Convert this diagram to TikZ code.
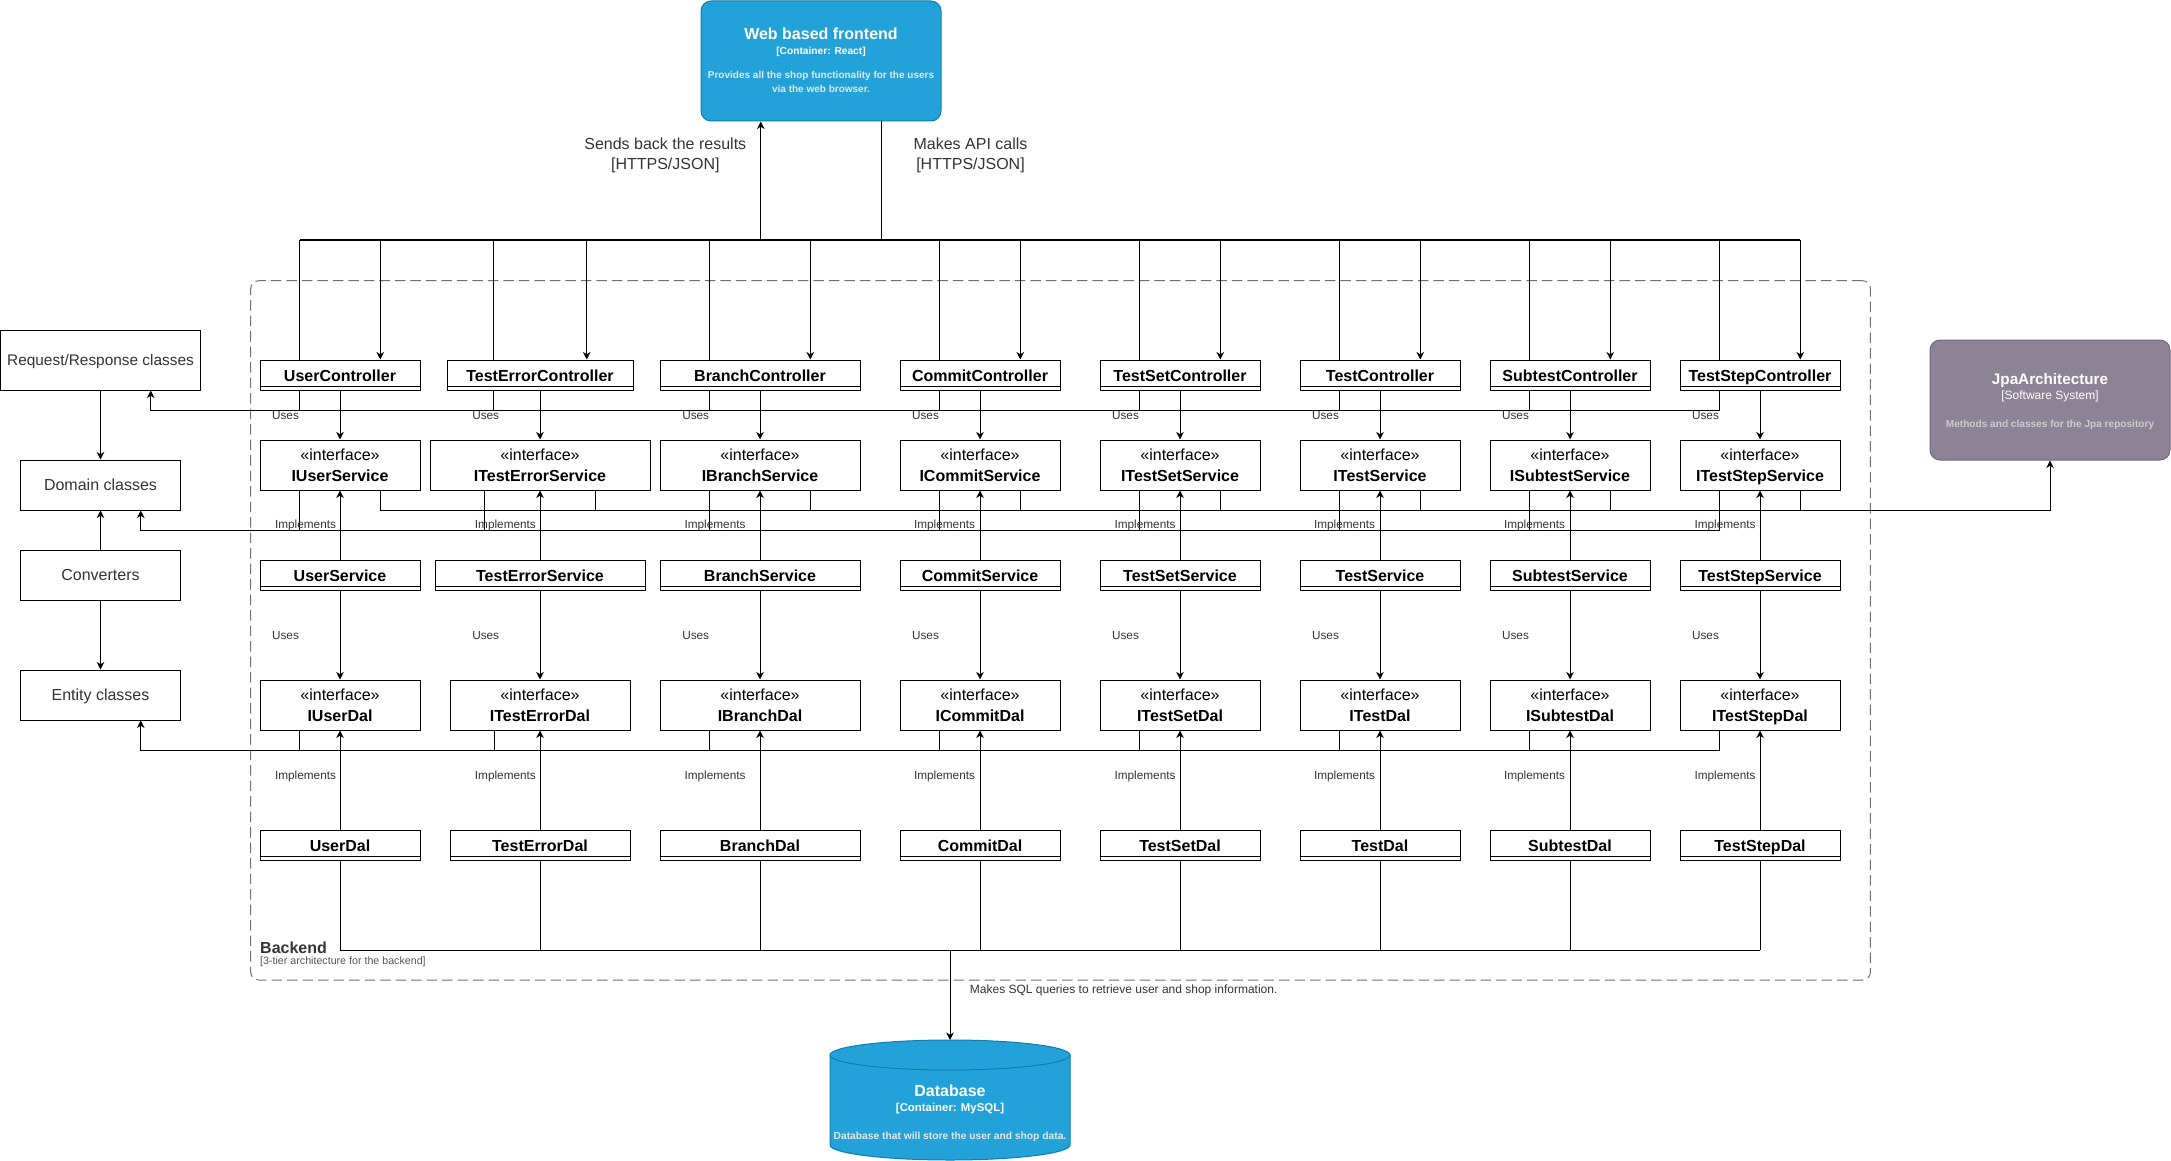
\documentclass[tikz,border=0pt]{standalone}
\usepackage{fontspec}
\setmainfont{Liberation Sans}
\usetikzlibrary{arrows.meta,calc}
\definecolor{c4blue}{HTML}{23A2D9}
\definecolor{c4bluedk}{HTML}{0E7DAD}
\definecolor{c4ext}{HTML}{8C8496}
\definecolor{c4extdk}{HTML}{736782}
\definecolor{txtgrey}{HTML}{333333}
\definecolor{subgrey}{HTML}{555555}
\definecolor{descblue}{HTML}{E6E6E6}
\definecolor{descext}{HTML}{CCCCCC}
\definecolor{framegrey}{HTML}{707070}
\newcommand{\pxfont}[1]{\fontsize{#1pt}{#1pt}\selectfont}

\tikzset{
  conn/.style={draw=black, line width=1pt},
  arr/.style={conn, -{Stealth[length=7.5pt,width=7.5pt,inset=2.3pt]}},
  lbox/.style={draw=black, line width=1pt, fill=white, inner sep=0pt,
    text height=11.5pt, text depth=0pt, text=txtgrey, font=\pxfont{16}},
  ctrlbox/.style={draw=black, line width=1pt, fill=white, inner sep=0pt,
    minimum height=30pt, text height=13pt, text depth=0pt,
    font=\bfseries\pxfont{16},
    path picture={\draw[line width=1pt]
      ([yshift=3.3pt]path picture bounding box.south west) --
      ([yshift=3.3pt]path picture bounding box.south east);}},
  ifbox/.style={draw=black, line width=1pt, fill=white, inner sep=0pt,
    minimum height=50pt},
  stereo/.style={inner sep=0pt, anchor=base, font=\pxfont{16}},
  ifname/.style={inner sep=0pt, anchor=base, font=\bfseries\pxfont{16}},
  elabel/.style={inner sep=0pt, anchor=base, text=txtgrey, font=\pxfont{11.8}},
  flow/.style={inner sep=0pt, anchor=base, text=txtgrey, font=\pxfont{16}},
  c4cont/.style={draw=c4bluedk, fill=c4blue, line width=1pt,
    rounded corners=10pt, inner sep=0pt, minimum width=240pt, minimum height=120pt},
  extsys/.style={draw=c4extdk, fill=c4ext, line width=1pt,
    rounded corners=10pt, inner sep=0pt, minimum width=240pt, minimum height=120pt},
  c4text/.style={inner sep=0pt, anchor=base, text=white},
}

\begin{document}
\begin{tikzpicture}[x=1pt,y=-1pt]
\useasboundingbox (0,0) rectangle (2171,1161);

% backend boundary
\node[draw=framegrey, line width=1pt, dash pattern=on 10.5pt off 5pt,
  rounded corners=8pt, inner sep=0pt, minimum width=1619.7pt,
  minimum height=699.3pt] (backend) at (1060.55,630.35) {};
\node[inner sep=0pt, anchor=base west, text=txtgrey, font=\bfseries\pxfont{16}]
  (backend-t) at (260,953.2) {Backend};
\node[inner sep=0pt, anchor=base west, text=subgrey, font=\pxfont{10.67}]
  (backend-s) at (260,964.5) {[3-tier architecture for the backend]};

% web frontend
\node[c4cont] (fe) at (821,61) {};
\node[c4text, font=\bfseries\pxfont{16}] (fe-t) at (821,40) {Web based frontend};
\node[c4text, font=\bfseries\pxfont{10.2}] (fe-s) at (821,54.3) {[Container: React]};
\node[c4text, text=descblue, font=\bfseries\pxfont{10}] (fe-d1) at (821,79) {Provides all the shop functionality for the users};
\node[c4text, text=descblue, font=\bfseries\pxfont{10}] (fe-d2) at (821,92.4) {via the web browser.};

% external Jpa system
\node[extsys] (jpa) at (2050,400) {};
\node[c4text, font=\bfseries\pxfont{15.25}] (jpa-t) at (2050,384) {JpaArchitecture};
\node[c4text, font=\pxfont{12}] (jpa-s) at (2050,399.3) {[Software System]};
\node[c4text, text=descext, font=\bfseries\pxfont{10.1}] (jpa-d) at (2050,427.3) {Methods and classes for the Jpa repository};

% database cylinder
\node[inner sep=0pt, outer sep=0pt, minimum width=240pt, minimum height=120pt] (db) at (950,1100) {};
\path[fill=c4blue, draw=c4bluedk, line width=1pt]
  ($(db.north west)+(0,15)$) -- ++(0,90)
  arc[start angle=180, end angle=360, x radius=120pt, y radius=15pt]
  -- ++(0,-90)
  arc[start angle=0, end angle=180, x radius=120pt, y radius=15pt] -- cycle;
\draw[c4bluedk, line width=1pt] ($(db.north west)+(0,15)$)
  arc[start angle=180, end angle=360, x radius=120pt, y radius=15pt];
\node[c4text, font=\bfseries\pxfont{16}] (db-t) at (950,1096.5) {Database};
\node[c4text, font=\bfseries\pxfont{11.4}] (db-s) at (950,1111.5) {[Container: MySQL]};
\node[c4text, text=descblue, font=\bfseries\pxfont{10.26}] (db-d) at (950,1139.7) {Database that will store the user and shop data.};

% shared class groups on the left
\node[lbox, font=\pxfont{15.4}, minimum width=200pt, minimum height=60pt] (rr) at (100.5,360) {Request/Response classes};
\node[lbox, minimum width=160pt, minimum height=50pt] (dom) at (100.5,485) {Domain classes};
\node[lbox, minimum width=160pt, minimum height=50pt] (conv) at (100.5,575) {Converters};
\node[lbox, minimum width=160pt, minimum height=50pt] (ent) at (100.5,695) {Entity classes};

% connector rails
\coordinate (busY) at (0,240);
\coordinate (usesY) at (0,410);
\coordinate (jpaY) at (0,510);
\coordinate (domY) at (0,530);
\coordinate (entY) at (0,750);
\coordinate (dbY) at (0,950);

% one column per entity: controller, service, data access
\foreach \i/\nm/\cx/\wA/\wB/\wC/\wD/\wE/\ux/\ix in {
  1/User/340/160/160/160/160/160/285.5/305.5,
  2/TestError/540/186/220/210/180/180/485.7/505.4,
  3/Branch/760/200/200/200/200/200/695.7/715,
  4/Commit/980/160/160/160/160/160/925.5/944.5,
  5/TestSet/1180/160/160/160/160/160/1125.5/1145,
  6/Test/1380/160/160/160/160/160/1325.5/1344.5,
  7/Subtest/1570/160/160/160/160/160/1515.5/1534.5,
  8/TestStep/1760/160/160/160/160/160/1705.5/1725}
{
  \node[ctrlbox, minimum width=\wA] (c\i) at (\cx,375) {\nm Controller};
  \node[ifbox, minimum width=\wB] (is\i) at (\cx,465) {};
  \node[stereo] (is\i-st) at (\cx,460.5) {«interface»};
  \node[ifname] (is\i-nm) at (\cx,481.2) {I\nm Service};
  \node[ctrlbox, minimum width=\wC] (sv\i) at (\cx,575) {\nm Service};
  \node[ifbox, minimum width=\wD] (id\i) at (\cx,705) {};
  \node[stereo] (id\i-st) at (\cx,700.5) {«interface»};
  \node[ifname] (id\i-nm) at (\cx,721.2) {I\nm Dal};
  \node[ctrlbox, minimum width=\wE] (dl\i) at (\cx,845) {\nm Dal};

  \coordinate (c\i-t1) at ($(c\i.north west)!.25!(c\i.north east)$);
  \coordinate (c\i-t3) at ($(c\i.north west)!.75!(c\i.north east)$);
  \coordinate (c\i-b1) at ($(c\i.south west)!.25!(c\i.south east)$);
  \coordinate (is\i-b1) at ($(is\i.south west)!.25!(is\i.south east)$);
  \coordinate (is\i-b3) at ($(is\i.south west)!.75!(is\i.south east)$);
  \coordinate (id\i-b1) at ($(id\i.south west)!.25!(id\i.south east)$);

  \draw[conn] (c\i-t1) -- (c\i-t1 |- busY);
  \draw[arr] (c\i-t3 |- busY) -- (c\i-t3);
  \draw[arr] (c\i) -- (is\i);
  \draw[conn] (c\i-b1) -- (c\i-b1 |- usesY);
  \draw[arr] (sv\i) -- (is\i);
  \draw[conn] (is\i-b1) -- (is\i-b1 |- domY);
  \draw[conn] (is\i-b3) -- (is\i-b3 |- jpaY);
  \draw[arr] (sv\i) -- (id\i);
  \draw[arr] (dl\i) -- (id\i);
  \draw[conn] (id\i-b1) -- (id\i-b1 |- entY);
  \draw[conn] (dl\i) -- (dl\i |- dbY);

  \node[elabel] (lu1-\i) at (\ux,419.4) {Uses};
  \node[elabel] (li1-\i) at (\ix,528.4) {Implements};
  \node[elabel] (lu2-\i) at (\ux,639.2) {Uses};
  \node[elabel] (li2-\i) at (\ix,779.1) {Implements};
}

% frontend <-> controllers
\coordinate (fe-in) at ($(fe.south west)!.25!(fe.south east)$);
\coordinate (fe-out) at ($(fe.south west)!.75!(fe.south east)$);
\draw[conn] (c1-t1 |- busY) -- (c8-t3 |- busY);
\draw[arr] (fe-in |- busY) -- (fe-in);
\draw[conn] (fe-out) -- (fe-out |- busY);
\node[flow] (fl-back1) at (665.3,149.8) {Sends back the results};
\node[flow] (fl-back2) at (665.3,169.8) {[HTTPS/JSON]};
\node[flow] (fl-api1) at (970.5,149.8) {Makes API calls};
\node[flow] (fl-api2) at (970.5,169.8) {[HTTPS/JSON]};

% rails to the shared classes and the Jpa system
\coordinate (rr-in) at ($(rr.south west)!.75!(rr.south east)$);
\coordinate (dom-in) at ($(dom.south west)!.75!(dom.south east)$);
\coordinate (ent-in) at ($(ent.south west)!.75!(ent.south east)$);
\draw[arr] (c8-b1 |- usesY) -| (rr-in);
\draw[arr] (is1-b3 |- jpaY) -| (jpa);
\draw[arr] (is8-b1 |- domY) -| (dom-in);
\draw[arr] (id8-b1 |- entY) -| (ent-in);

% left-hand class groups
\draw[arr] (rr) -- (dom);
\draw[arr] (conv) -- (dom);
\draw[arr] (conv) -- (ent);

% data access to database
\draw[conn] (dl1 |- dbY) -- (dl8 |- dbY);
\draw[arr] (db |- dbY) -- (db);
\node[flow, font=\pxfont{12}] (fl-sql) at (1123.7,993.6) {Makes SQL queries to retrieve user and shop information.};
\end{tikzpicture}
\end{document}
